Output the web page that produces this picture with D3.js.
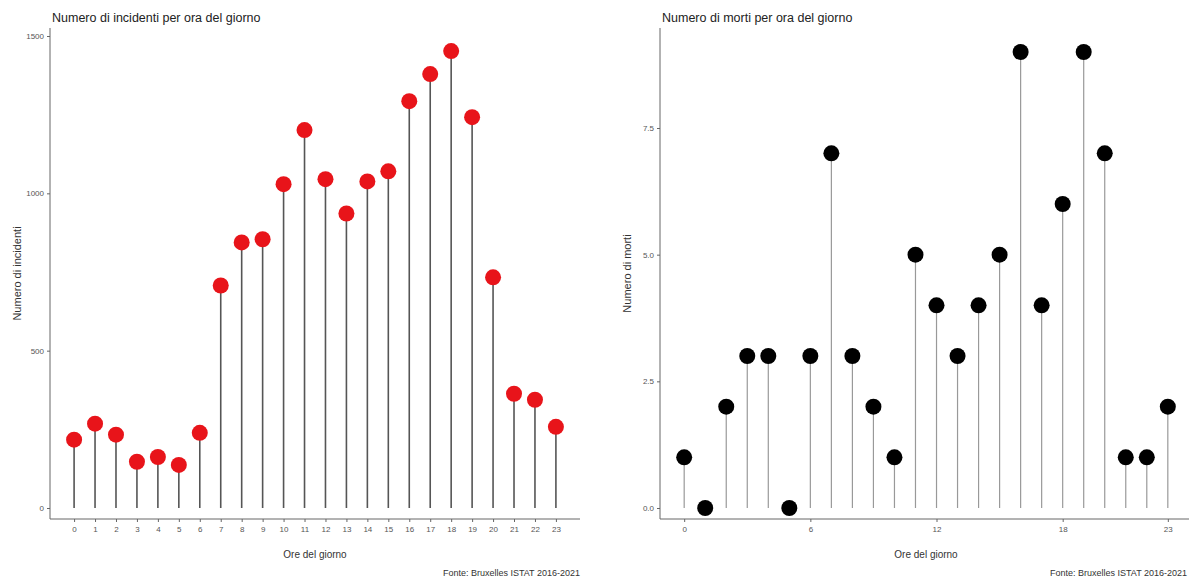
<!DOCTYPE html>
<html><head><meta charset="utf-8">
<script src="https://cdn.jsdelivr.net/npm/d3@7"></script>
<style>body{margin:0;background:#fff}svg{display:block}text{font-family:"Liberation Sans",Arial,sans-serif}</style>
</head><body>
<svg id="c" width="1189" height="581"></svg>
<script>
const hours = d3.range(0, 24);
const incidenti = [217, 268, 233, 147, 162, 137, 239, 707, 844, 854, 1029, 1201, 1045, 936, 1038, 1070, 1293, 1379, 1452, 1242, 733, 363, 344, 258];
const morti = [1, 0, 2, 3, 3, 0, 3, 7, 3, 2, 1, 5, 4, 3, 4, 5, 9, 4, 6, 9, 7, 1, 1, 2];
const ticksIncY = [0, 500, 1000, 1500];
const ticksMortiY = [0, 2.5, 5, 7.5];
const ticksMortiX = [0, 6, 12, 18, 23];
const titles = ["Numero di incidenti per ora del giorno", "Numero di morti per ora del giorno"];
const yLabels = ["Numero di incidenti", "Numero di morti"];
const xLabel = "Ore del giorno";
const fonte = "Fonte: Bruxelles ISTAT 2016-2021";

const svg = d3.select("#c");

function panel(cfg) {
  const g = svg.append("g");
  const x = d3.scaleLinear().domain([-1.15, 24.15]).range([cfg.x0, cfg.x1]);
  const y = d3.scaleLinear().domain(cfg.yDomain).range(cfg.yRange);
  const top = 28, bottom = 519;
  g.append("g").attr("transform", `translate(0,${bottom})`)
    .call(d3.axisBottom(x).tickValues(cfg.xTicks).tickSize(3).tickPadding(4).tickFormat(d3.format("d")))
    .call(a => a.select(".domain").attr("d", `M${cfg.x0},0H${cfg.x1}`).attr("stroke", "#666"))
    .call(a => a.selectAll(".tick line").attr("stroke", "#666"))
    .call(a => a.selectAll("text").attr("fill", "#555").attr("font-size", 8));
  g.append("g").attr("transform", `translate(${cfg.x0},0)`)
    .call(d3.axisLeft(y).tickValues(cfg.yTicks).tickSize(3).tickPadding(3).tickFormat(cfg.yFmt))
    .call(a => a.select(".domain").attr("d", `M0,${top}V${bottom}`).attr("stroke", "#666"))
    .call(a => a.selectAll(".tick line").attr("stroke", "#666"))
    .call(a => a.selectAll("text").attr("fill", "#555").attr("font-size", 8));
  g.selectAll("line.stem").data(cfg.values).join("line").attr("class", "stem")
    .attr("x1", (d, i) => x(hours[i])).attr("x2", (d, i) => x(hours[i]))
    .attr("y1", y(0)).attr("y2", d => y(d))
    .attr("stroke", cfg.stem).attr("stroke-width", cfg.stemW);
  g.selectAll("circle").data(cfg.values).join("circle")
    .attr("cx", (d, i) => x(hours[i])).attr("cy", d => y(d)).attr("r", 8)
    .attr("fill", cfg.color);
  g.append("text").attr("x", cfg.x0 + 2).attr("y", 22).attr("font-size", 12.5).attr("fill", "#222").text(cfg.title);
  g.append("text").attr("transform", `translate(${cfg.x0 - 29},${(top + bottom) / 2}) rotate(-90)`)
    .attr("text-anchor", "middle").attr("font-size", 11).attr("fill", "#333").text(cfg.yLabel);
  g.append("text").attr("x", (cfg.x0 + cfg.x1) / 2).attr("y", 558).attr("text-anchor", "middle")
    .attr("font-size", 10).attr("fill", "#333").text(xLabel);
  g.append("text").attr("x", cfg.srcX).attr("y", 576).attr("text-anchor", cfg.srcAnchor)
    .attr("font-size", 9).attr("fill", "#333").text(fonte);
}

panel({x0: 50, x1: 580, yDomain: [0, 1500], yRange: [508, 36], yTicks: ticksIncY, yFmt: d3.format("d"),
  xTicks: hours, values: incidenti, color: "#e8141a", stem: "#555", stemW: 1.6,
  title: titles[0], yLabel: yLabels[0], srcX: 580, srcAnchor: "end"});
panel({x0: 660, x1: 1192, yDomain: [0, 7.5], yRange: [508, 128], yTicks: ticksMortiY, yFmt: d3.format(".1f"),
  xTicks: ticksMortiX, values: morti, color: "#000", stem: "#999", stemW: 1.2,
  title: titles[1], yLabel: yLabels[1], srcX: 1050, srcAnchor: "start"});
</script>
</body></html>
